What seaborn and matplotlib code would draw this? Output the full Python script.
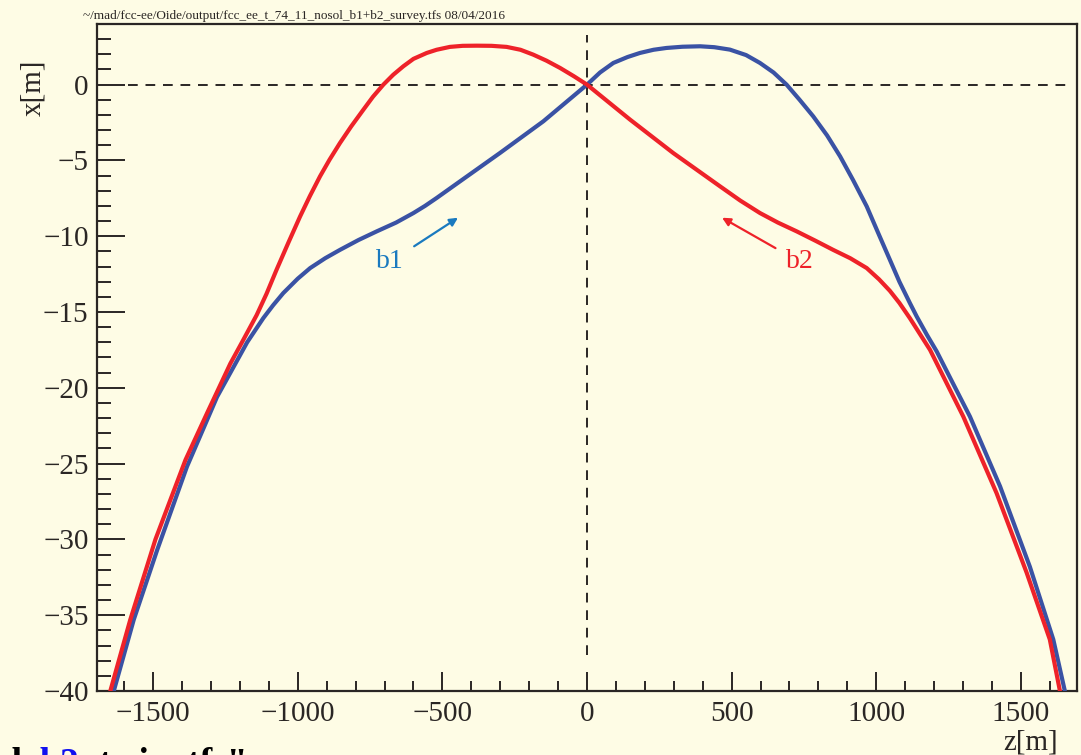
import matplotlib
matplotlib.use("Agg")
import matplotlib.pyplot as plt
from matplotlib.ticker import MultipleLocator
import pandas as pd
import seaborn as sns

# beam b1 (blue)
z_b1 = [-1636, -1567, -1486, -1383, -1279, -1175, -1119, -1085, -1050, -1000,
        -957, -905, -854, -790, -727, -660, -600, -560, -520, -439, -301, -151,
        0, 45, 91, 140, 183, 230, 275, 330, 391, 440, 494, 550, 598, 645, 690,
        735, 782, 830, 875, 920, 967, 1007, 1047, 1080, 1116, 1140, 1175, 1209,
        1265, 1324, 1428, 1531, 1612, 1652]
x_b1 = [-40.0, -35.3, -30.7, -25.2, -20.6, -17.0, -15.4, -14.55, -13.75, -12.8,
        -12.1, -11.45, -10.9, -10.25, -9.68, -9.1, -8.47, -8.0, -7.48, -6.38,
        -4.51, -2.42, 0.0, 0.8, 1.43, 1.82, 2.09, 2.3, 2.42, 2.5, 2.53, 2.47,
        2.31, 1.95, 1.43, 0.8, 0.0, -1.0, -2.09, -3.35, -4.73, -6.3, -8.03,
        -9.8, -11.55, -13.0, -14.4, -15.3, -16.5, -17.6, -19.7, -21.9, -26.5,
        -31.8, -36.6, -40.0]

# beam b2 (red)
z_b2 = [-1648, -1579, -1492, -1388, -1313, -1265, -1233, -1190, -1142, -1108,
        -1073, -1033, -992, -958, -923, -890, -854, -815, -773, -740, -704,
        -670, -635, -600, -554, -520, -474, -430, -381, -330, -278, -230, -186,
        -140, -93, -45, 0, 149, 298, 460, 530, 598, 660, 725, 790, 851, 910,
        967, 1010, 1047, 1080, 1116, 1186, 1301, 1416, 1520, 1600, 1635]
x_b2 = [-40.0, -35.3, -30.0, -24.75, -21.65, -19.7, -18.4, -16.9, -15.2, -13.8,
        -12.2, -10.45, -8.7, -7.35, -6.05, -4.95, -3.85, -2.75, -1.65, -0.8,
        0.0, 0.65, 1.21, 1.7, 2.09, 2.3, 2.49, 2.56, 2.57, 2.56, 2.49, 2.3,
        1.98, 1.58, 1.1, 0.55, 0.0, -2.31, -4.51, -6.71, -7.65, -8.47, -9.1,
        -9.68, -10.3, -10.9, -11.45, -12.1, -12.85, -13.6, -14.4, -15.4,
        -17.5, -21.9, -26.95, -32.2, -36.6, -40.0]

x_ticks = [-1500, -1000, -500, 0, 500, 1000, 1500]
y_ticks = [0, -5, -10, -15, -20, -25, -30, -35, -40]

title = "~/mad/fcc-ee/Oide/output/fcc_ee_t_74_11_nosol_b1+b2_survey.tfs 08/04/2016"

bg = "#FEFCE5"
red = "#EE2229"
blue = "#3A52A4"
ink = "#2A2624"

sns.set_theme(style="ticks")
plt.rcParams["font.family"] = ["Liberation Serif", "DejaVu Serif"]
plt.rcParams["axes.unicode_minus"] = True

df1 = pd.DataFrame({"z": z_b1, "x": x_b1})
df2 = pd.DataFrame({"z": z_b2, "x": x_b2})

fig = plt.figure(figsize=(10.81, 7.55), dpi=100, facecolor=bg)
ax = fig.add_axes([97 / 1081, 64 / 755, 980 / 1081, 667 / 755])
ax.set_facecolor(bg)

ax.axhline(0, xmin=0.032, xmax=0.993, color=ink, lw=1.4, ls=(0, (5, 4)), zorder=1)
ax.axvline(0, ymin=0.054, ymax=0.983, color=ink, lw=1.4, ls=(0, (5, 4)), zorder=1)

sns.lineplot(data=df1, x="z", y="x", sort=False, color=blue, lw=3.0, ax=ax, zorder=3)
sns.lineplot(data=df2, x="z", y="x", sort=False, color=red, lw=3.0, ax=ax, zorder=4)

ax.set_xlim(-1694, 1694)
ax.set_ylim(-40, 4)
ax.set_xticks(x_ticks)
ax.set_yticks(y_ticks)
ax.xaxis.set_minor_locator(MultipleLocator(100))
ax.yaxis.set_minor_locator(MultipleLocator(1))
ax.tick_params(axis="x", which="major", direction="in", length=13.5, width=1.4,
               color=ink, labelsize=21, labelcolor=ink, pad=7)
ax.tick_params(axis="x", which="minor", direction="in", length=7, width=1.4, color=ink)
ax.tick_params(axis="y", which="major", direction="in", length=20, width=1.4,
               color=ink, labelsize=21, labelcolor=ink, pad=6)
ax.tick_params(axis="y", which="minor", direction="in", length=10, width=1.4, color=ink)
for s in ax.spines.values():
    s.set_color(ink)
    s.set_linewidth(1.6)

ax.set_xlabel("z[m]", fontsize=21, color=ink, loc="right")
ax.xaxis.set_label_coords(0.98, -0.057)
ax.set_ylabel("x[m]", fontsize=21, color=ink, loc="top")
ax.yaxis.set_label_coords(-0.052, 0.946)

ax.annotate("b1", xy=(-446, -8.78), xytext=(-681, -11.7), fontsize=20, color="#1A7ABF",
            ha="center", va="center",
            arrowprops=dict(arrowstyle="-|>", color="#1A7ABF", lw=1.6, mutation_scale=12,
                            shrinkA=6, shrinkB=0))
ax.annotate("b2", xy=(467, -8.78), xytext=(736, -11.7), fontsize=20, color=red,
            ha="center", va="center",
            arrowprops=dict(arrowstyle="-|>", color=red, lw=1.6, mutation_scale=12,
                            shrinkA=6, shrinkB=0))

fig.text(83 / 1081, 1 - 19 / 755, title, fontsize=9.5, color=ink)

# bold caption cut off by the bottom edge
fig.text(0 / 1081, -19 / 755, "d", fontsize=27, fontweight="bold", color="black")
fig.text(40 / 1081, -19 / 755, "b2", fontsize=27, fontweight="bold", color="#1010F0")
fig.text(80 / 1081, -19 / 755, '_twiss.tfs"', fontsize=27, fontweight="bold", color="black")

fig.savefig("out.png", dpi=100, facecolor=bg)
